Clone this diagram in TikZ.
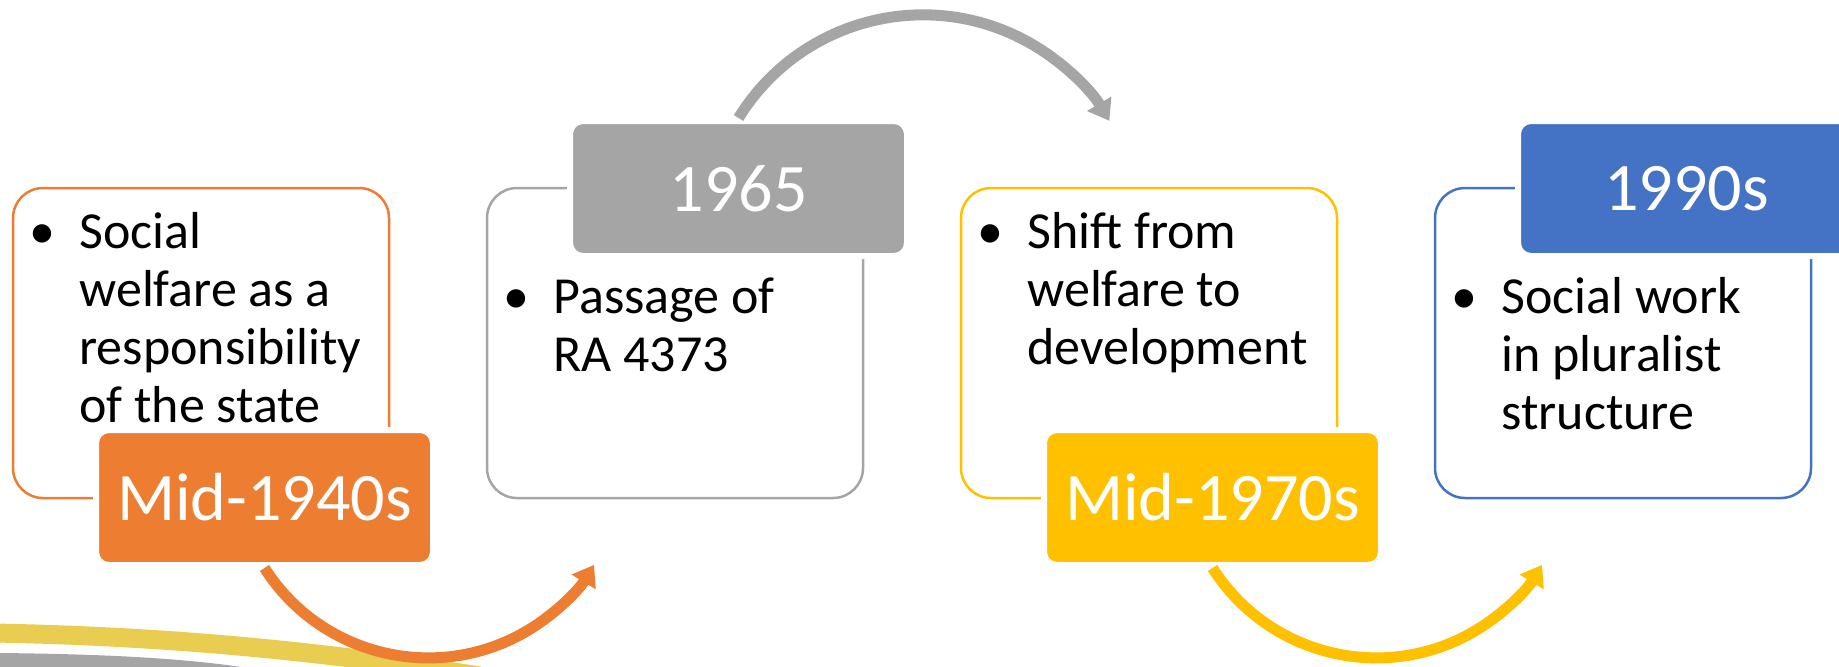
\documentclass[tikz,border=0pt]{standalone}
\usepackage{fontspec}
\setmainfont{Carlito}
\usetikzlibrary{arrows.meta}
\definecolor{cOrange}{HTML}{ED7D31}
\definecolor{cGray}{HTML}{A5A5A5}
\definecolor{cYellow}{HTML}{FFC000}
\definecolor{cBlue}{HTML}{4472C4}
\definecolor{cBand}{HTML}{E8CD50}
\begin{document}
\begin{tikzpicture}[x=0.5pt,y=0.5pt,
  outbox/.style={draw=#1, line width=1.25pt, rounded corners=15pt, minimum width=188pt, minimum height=155pt, inner sep=0pt},
  datebox/.style={fill=#1, draw=white, line width=3pt, rounded corners=6.5pt, minimum width=168.5pt, minimum height=67.5pt, text=white, font=\fontsize{34pt}{40pt}\selectfont, inner sep=0pt},
  bodytext/.style={anchor=base west, inner sep=0pt, font=\fontsize{26pt}{29pt}\selectfont},
  bulletmark/.style={anchor=base, inner sep=0pt, font=\fontsize{26pt}{29pt}\selectfont},
  flow/.style={draw=#1, line width=5.5pt, -{Triangle[length=10pt,width=13.5pt]}}
]
\useasboundingbox (0,0) rectangle (1839,-666);
% background swooshes
\fill[cGray] (0,-653) .. controls (100,-654) and (200,-658) .. (270,-672) -- (0,-672) -- cycle;
\draw[cBand, line width=9.5pt] (-5,-633) .. controls (150,-636) and (300,-648) .. (480,-676);
% outline boxes
\node[outbox=cOrange] (b1) at (201,-343) {};
\node[outbox=cGray] (b2) at (675,-343) {};
\node[outbox=cYellow] (b3) at (1149,-343) {};
\node[outbox=cBlue] (b4) at (1623,-343) {};
% texts
\node[bulletmark] (u1) at (42,-248) {\textbullet};
\node[bodytext] (t1) at (79,-248) {\begin{tabular}[t]{@{}l@{}}Social\\welfare as a\\responsibility\\of the state\end{tabular}};
\node[bulletmark] (u2) at (516,-313) {\textbullet};
\node[bodytext] (t2) at (553,-313) {\begin{tabular}[t]{@{}l@{}}Passage of\\RA 4373\end{tabular}};
\node[bulletmark] (u3) at (990,-248) {\textbullet};
\node[bodytext] (t3) at (1027,-248) {\begin{tabular}[t]{@{}l@{}}Shift from\\welfare to\\development\end{tabular}};
\node[bulletmark] (u4) at (1464,-313) {\textbullet};
\node[bodytext] (t4) at (1501,-313) {\begin{tabular}[t]{@{}l@{}}Social work\\in pluralist\\structure\end{tabular}};
% date labels
\node[datebox=cOrange] (l1) at (264.5,-497.5) {Mid-1940s};
\node[datebox=cGray] (l2) at (738.5,-188.5) {1965};
\node[datebox=cYellow] (l3) at (1212.5,-497.5) {Mid-1970s};
\node[datebox=cBlue] (l4) at (1686.5,-188.5) {1990s};
% arrows
\draw[flow=cOrange] (l1.south) arc[start angle=212.5, end angle=328.6, radius=194.2];
\draw[flow=cGray] (l2.north) arc[start angle=148.4, end angle=30.7, radius=216.7];
\draw[flow=cYellow] (l3.south) arc[start angle=212.5, end angle=328.6, radius=194.2];
\end{tikzpicture}
\end{document}
